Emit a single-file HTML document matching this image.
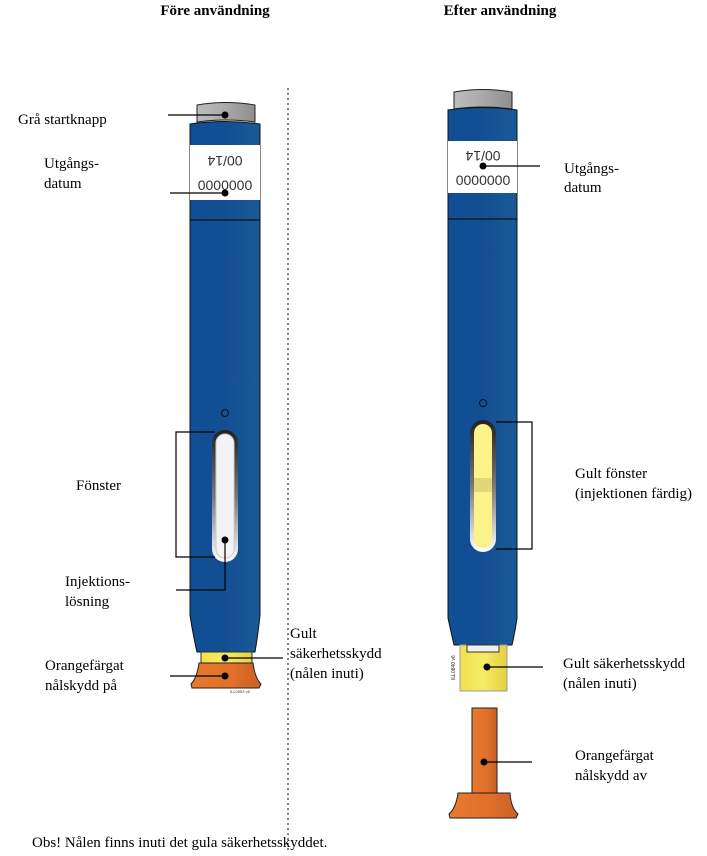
<!DOCTYPE html>
<html><head><meta charset="utf-8"><style>
body{margin:0;background:#fff;}
svg{display:block;font-family:"Liberation Serif",serif;}
</style></head><body>
<svg width="707" height="856" viewBox="0 0 707 856" xmlns="http://www.w3.org/2000/svg">
<defs>
<linearGradient id="blue" x1="0" x2="1"><stop offset="0" stop-color="#0f4f96"/><stop offset="0.5" stop-color="#134e92"/><stop offset="1" stop-color="#1a5a98"/></linearGradient>
<linearGradient id="gray" x1="0" x2="1"><stop offset="0" stop-color="#bdbdbd"/><stop offset="0.5" stop-color="#a9a9a9"/><stop offset="1" stop-color="#8e8e8e"/></linearGradient>
<linearGradient id="orange" x1="0" x2="1"><stop offset="0" stop-color="#e87a2c"/><stop offset="0.6" stop-color="#e0702a"/><stop offset="1" stop-color="#c85f25"/></linearGradient>
<linearGradient id="yel" x1="0" x2="1"><stop offset="0" stop-color="#f2e04a"/><stop offset="0.5" stop-color="#f6ea6a"/><stop offset="1" stop-color="#e5d040"/></linearGradient>
<linearGradient id="win" x1="0" x2="0" y1="0" y2="1"><stop offset="0" stop-color="#222"/><stop offset="0.5" stop-color="#777"/><stop offset="1" stop-color="#fff"/></linearGradient>
</defs>
<text x="215" y="15" font-size="15" font-weight="bold" text-anchor="middle">Före användning</text>
<text x="500" y="15" font-size="15" font-weight="bold" text-anchor="middle">Efter användning</text>
<line x1="288" y1="88" x2="288" y2="852" stroke="#000" stroke-dasharray="2,3"/>

<!-- LEFT PEN -->
<path d="M197 105 Q226 100 255 105 L255 122 Q226 118 197 122 Z" fill="url(#gray)" stroke="#222"/>
<path d="M190 124 Q225 119 260 124 L260 615 Q258 635 255 652 L197 652 Q193 635 190 615 Z" fill="url(#blue)" stroke="#111"/>
<rect x="190" y="145" width="70" height="55" fill="#fff"/>
<text x="225" y="166" font-family="Liberation Sans,sans-serif" font-size="14" fill="#333" text-anchor="middle" transform="rotate(180 225 161)">00/14</text>
<text x="225" y="190" font-family="Liberation Sans,sans-serif" font-size="14" fill="#333" text-anchor="middle">0000000</text>
<line x1="190" y1="220" x2="260" y2="220" stroke="#111" stroke-width="1.2"/>
<circle cx="225" cy="413" r="3.5" fill="none" stroke="#111"/>
<rect x="212" y="430" width="26" height="132" rx="13" fill="url(#win)"/>
<rect x="216" y="434" width="18" height="124" rx="9" fill="#f4f4f6" stroke="#ccc"/>
<rect x="201" y="652" width="51" height="11" fill="url(#yel)" stroke="#333"/>
<path d="M199 663 L253 663 Q255 678 261 684 L259 688 L192 688 L191 684 Q197 678 199 663 Z" fill="url(#orange)" stroke="#222"/>
<text x="230" y="693" font-family="Liberation Sans,sans-serif" font-size="4" fill="#333">ILL0953 v6</text>

<!-- RIGHT PEN -->
<path d="M454 92 Q483 87 512 92 L512 109 Q483 105 454 109 Z" fill="url(#gray)" stroke="#222"/>
<path d="M448 110 Q483 105 517 110 L517 618 Q515 632 512 645 L454 645 Q451 632 448 618 Z" fill="url(#blue)" stroke="#111"/>
<rect x="448" y="141" width="69" height="52" fill="#fff"/>
<text x="483" y="161" font-family="Liberation Sans,sans-serif" font-size="14" fill="#333" text-anchor="middle" transform="rotate(180 483 156)">00/14</text>
<text x="483" y="185" font-family="Liberation Sans,sans-serif" font-size="14" fill="#333" text-anchor="middle">0000000</text>
<line x1="448" y1="219" x2="517" y2="219" stroke="#111" stroke-width="1.2"/>
<circle cx="483" cy="403" r="3.5" fill="none" stroke="#111"/>
<rect x="470" y="420" width="26" height="132" rx="13" fill="url(#win)"/>
<rect x="474" y="424" width="18" height="124" rx="9" fill="#fbf28a"/>
<rect x="474" y="478" width="18" height="14" fill="#e3d67a"/>
<rect x="460" y="645" width="47" height="46" fill="url(#yel)" stroke="#999"/>
<rect x="467" y="645" width="32" height="7" fill="#f0f0f0" stroke="#333"/>
<text x="455" y="680" font-family="Liberation Sans,sans-serif" font-size="5" fill="#222" transform="rotate(-90 455 680)">ILL0840 v6</text>
<rect x="472" y="708" width="25" height="85" fill="url(#orange)" stroke="#222"/>
<path d="M458 793 L510 793 Q511 808 518 814 L516 818 L450 818 L449 814 Q456 808 458 793 Z" fill="url(#orange)" stroke="#222"/>

<!-- LABELS -->
<g font-size="15" fill="#000">
<text x="18" y="124">Grå startknapp</text>
<text x="44" y="168">Utgångs-</text><text x="44" y="188">datum</text>
<text x="76" y="490">Fönster</text>
<text x="65" y="586">Injektions-</text><text x="65" y="606">lösning</text>
<text x="45" y="670">Orangefärgat</text><text x="45" y="690">nålskydd på</text>
<text x="290" y="638">Gult</text><text x="290" y="658">säkerhetsskydd</text><text x="290" y="678">(nålen inuti)</text>
<text x="564" y="173">Utgångs-</text><text x="564" y="192">datum</text>
<text x="575" y="478">Gult fönster</text><text x="575" y="498">(injektionen färdig)</text>
<text x="563" y="668">Gult säkerhetsskydd</text><text x="563" y="688">(nålen inuti)</text>
<text x="575" y="760">Orangefärgat</text><text x="575" y="780">nålskydd av</text>
<text x="32" y="847">Obs! Nålen finns inuti det gula säkerhetsskyddet.</text>
</g>
<g stroke="#000" stroke-width="1.2" fill="none">
<line x1="168" y1="115" x2="225" y2="115"/>
<line x1="170" y1="193" x2="225" y2="193"/>
<polyline points="215,432 176,432 176,557 215,557"/>
<polyline points="176,590 225,590 225,540"/>
<line x1="170" y1="676" x2="225" y2="676"/>
<line x1="225" y1="658" x2="283" y2="658"/>
<line x1="483" y1="166" x2="540" y2="166"/>
<polyline points="496,422 532,422 532,549 496,549"/>
<line x1="487" y1="667" x2="543" y2="667"/>
<line x1="484" y1="762" x2="532" y2="762"/>
</g>
<g fill="#000">
<circle cx="225" cy="115" r="3.5"/><circle cx="225" cy="193" r="3.5"/>
<circle cx="225" cy="540" r="3.5"/><circle cx="225" cy="676" r="3.5"/><circle cx="225" cy="658" r="3.5"/>
<circle cx="483" cy="166" r="3.5"/><circle cx="487" cy="667" r="3.5"/><circle cx="484" cy="762" r="3.5"/>
</g>
</svg>
</body></html>
